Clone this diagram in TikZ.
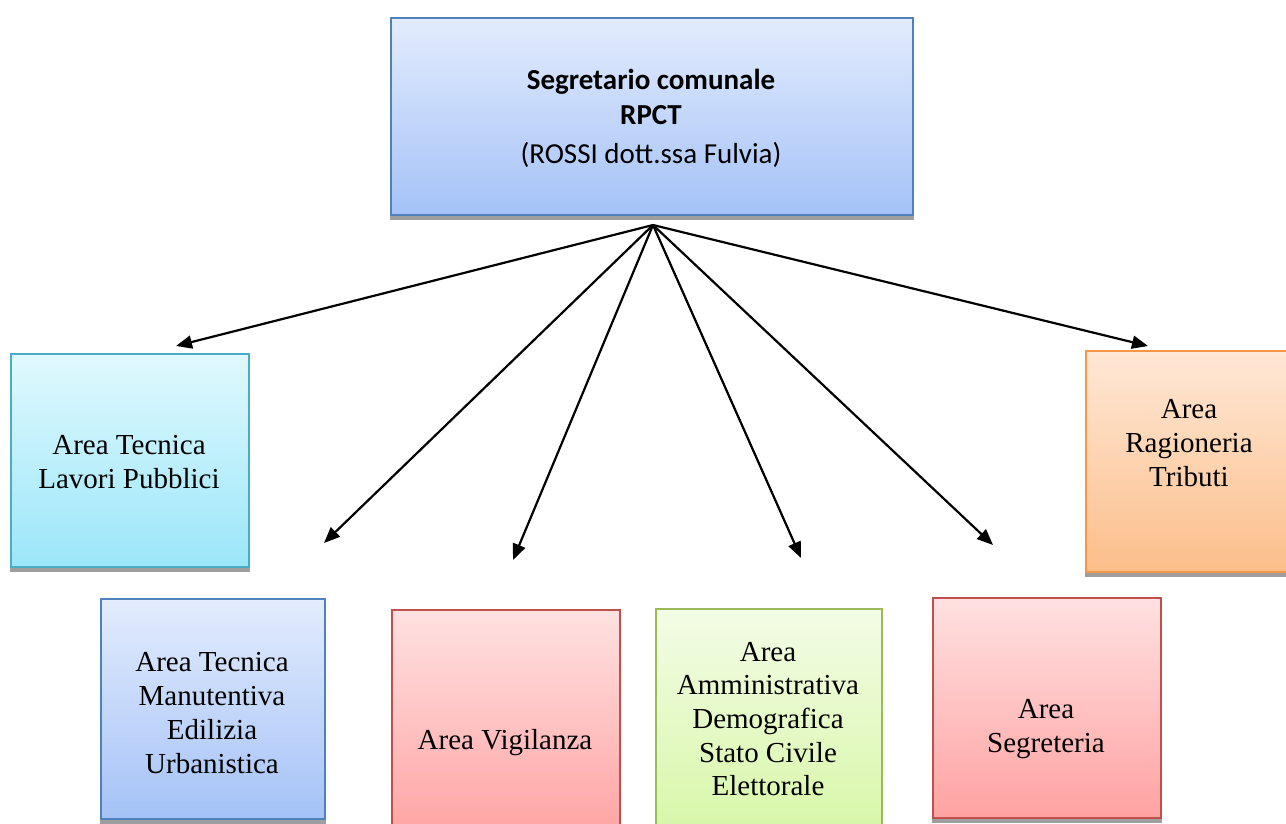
\documentclass[tikz,border=0pt]{standalone}
\usepackage{fontspec}
\setmainfont{Liberation Serif}
\newfontfamily\calib{Carlito}
\usetikzlibrary{arrows.meta}
\definecolor{bluetop}{HTML}{E3ECFD}
\definecolor{bluebot}{HTML}{A4C2F7}
\definecolor{blueln}{HTML}{4F81BD}
\definecolor{cyantop}{HTML}{E0F9FE}
\definecolor{cyanbot}{HTML}{9BE6F9}
\definecolor{cyanln}{HTML}{4BACC6}
\definecolor{orgtop}{HTML}{FFE8D6}
\definecolor{orgbot}{HTML}{FBBE8A}
\definecolor{orgln}{HTML}{F79646}
\definecolor{redtop}{HTML}{FFE1E1}
\definecolor{redbot}{HTML}{FFA2A2}
\definecolor{redln}{HTML}{C0504D}
\definecolor{grntop}{HTML}{F3FCE6}
\definecolor{grnbot}{HTML}{D7F7A6}
\definecolor{grnln}{HTML}{9BBB59}
\definecolor{shadowgray}{HTML}{9E9E9E}
\tikzset{
  x=1pt, y=-1pt,
  box/.style={rectangle, anchor=north west, inner sep=0pt, line width=1.6pt},
  bluebox/.style={box, draw=blueln, top color=bluetop, bottom color=bluebot},
  cyanbox/.style={box, draw=cyanln, top color=cyantop, bottom color=cyanbot},
  orgbox/.style={box, draw=orgln, top color=orgtop, bottom color=orgbot},
  redbox/.style={box, draw=redln, top color=redtop, bottom color=redbot},
  grnbox/.style={box, draw=grnln, top color=grntop, bottom color=grnbot},
  lbl/.style={align=center, inner sep=0pt, font=\fontsize{29}{33.7}\selectfont},
  toplbl/.style={align=center, inner sep=0pt, font=\calib\fontsize{29}{35}\selectfont},
  arr/.style={line width=2.2pt, -{Triangle[length=16pt, width=13pt]}},
}
\newcommand{\boxshadow}[1]{\fill[shadowgray] ([yshift=-4.5pt]#1.south west) rectangle (#1.south east);}
\begin{document}
\begin{tikzpicture}
\clip (0,0) rectangle (1286,823);
\fill[white] (0,0) rectangle (1286,823);

% boxes
\node[bluebox, minimum width=522pt, minimum height=197pt] (top) at (390,17) {};
\boxshadow{top}
\node[cyanbox, minimum width=238pt, minimum height=213pt] (lp) at (10,353) {};
\boxshadow{lp}
\node[orgbox, minimum width=215pt, minimum height=221pt] (rag) at (1085,350) {};
\boxshadow{rag}
\node[bluebox, minimum width=224pt, minimum height=220pt] (man) at (100,598) {};
\boxshadow{man}
\node[redbox, minimum width=228pt, minimum height=230pt] (vig) at (391,609) {};
\node[grnbox, minimum width=226pt, minimum height=230pt] (amm) at (655,608) {};
\node[redbox, minimum width=228pt, minimum height=220pt] (seg) at (932,597) {};
\boxshadow{seg}

% labels
\node[toplbl] (toptxt) at (651,97) {\textbf{Segretario comunale}\\\textbf{RPCT}};
\node[toplbl] (topname) at (651,155) {(ROSSI dott.ssa Fulvia)};
\node[lbl] (lptxt) at (129,462) {Area Tecnica\\Lavori Pubblici};
\node[lbl] (ragtxt) at (1189,443) {Area\\Ragioneria\\Tributi};
\node[lbl] (mantxt) at (212,713) {Area Tecnica\\Manutentiva\\Edilizia\\Urbanistica};
\node[lbl] (vigtxt) at (505,743) {Area Vigilanza};
\node[lbl] (ammtxt) at (768,719) {Area\\Amministrativa\\Demografica\\Stato Civile\\Elettorale};
\node[lbl] (segtxt) at (1046,729) {Area\\Segreteria};

% connectors
\coordinate (hub) at (653,225);
\coordinate (e1) at (176,346);
\coordinate (e2) at (324,543);
\coordinate (e3) at (513,560);
\coordinate (e4) at (801,558);
\coordinate (e5) at (993,545);
\coordinate (e6) at (1148,346);
\foreach \e in {e1,e2,e3,e4,e5,e6} \draw[arr] (hub) -- (\e);
\end{tikzpicture}
\end{document}
